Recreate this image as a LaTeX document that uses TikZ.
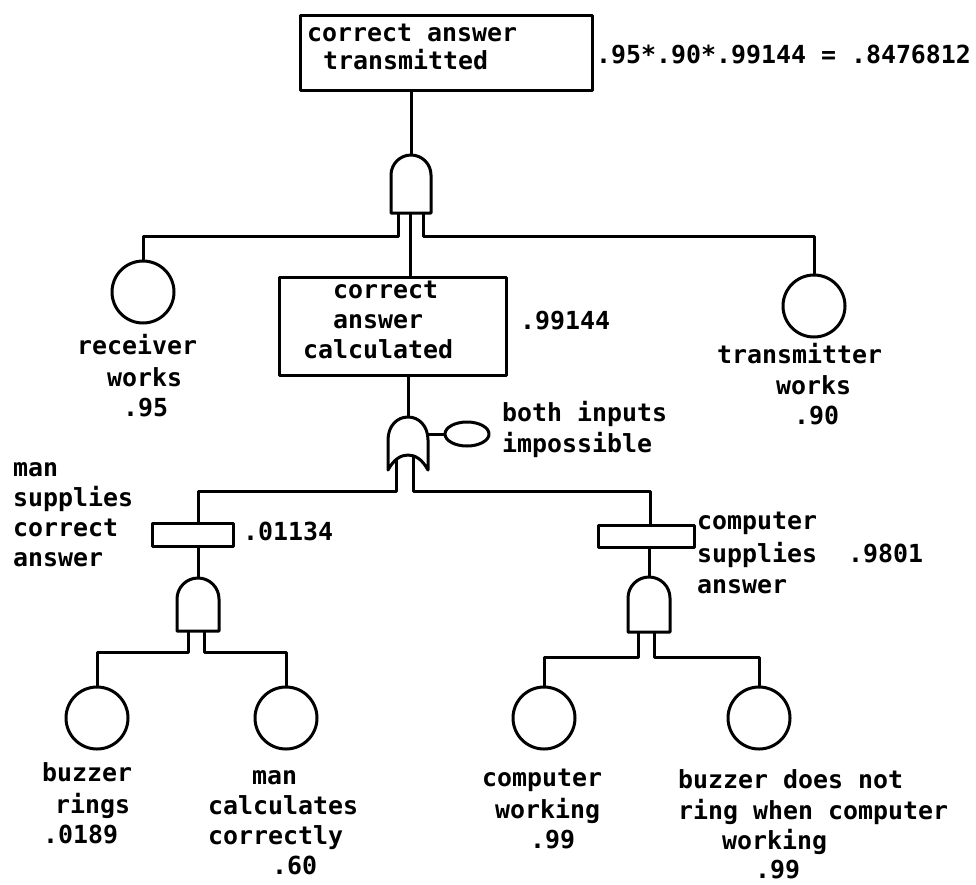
\documentclass[tikz,border=0pt]{standalone}
\usepackage{fontspec}
\newfontfamily\tw{DejaVu Sans Mono}
\usetikzlibrary{shapes.geometric}
\tikzset{
  ln/.style={line width=3pt, line cap=round, line join=round},
  boxnode/.style={draw, ln, rectangle, inner sep=0pt},
  basic/.style={draw, ln, circle, minimum size=62pt, inner sep=0pt},
  gate/.style={ln, draw, fill=white},
  txt/.style={inner sep=0pt, anchor=west, text height=18pt, text depth=5pt, font=\tw\bfseries\fontsize{24.9}{30}\selectfont},
}
\begin{document}
\begin{tikzpicture}[x=1pt,y=-1pt]
\useasboundingbox (0,0) rectangle (976,884);

% ---------- top event ----------
\node[boxnode, minimum width=292pt, minimum height=75pt] (top) at (446,52.5) {};
\node[txt] (t1) at (307,35) {correct answer};
\node[txt] (t2) at (323,63) {transmitted};
\node[txt] (teq) at (596,57) {.95*.90*.99144 = .8476812};

% top AND gate
\coordinate (g1T) at (411,155);
\coordinate (g1L) at (398,213);
\coordinate (g1C) at (410,213);
\coordinate (g1R) at (423,213);
\coordinate (bus1) at (0,236);
\draw[ln] (g1T |- top.south) -- (g1T);

% receiver / transmitter
\node[basic] (rec) at (143,292) {};
\node[basic] (tra) at (814,306) {};
\node[txt] at (77,348) {receiver};
\node[txt] at (107,380) {works};
\node[txt] at (123,410) {.95};
\node[txt] at (717,357) {transmitter};
\node[txt] at (776,388) {works};
\node[txt] at (794,418) {.90};

% box 2
\node[boxnode, minimum width=227pt, minimum height=98pt] (calc) at (392.5,326) {};
\node[txt] at (333,292) {correct};
\node[txt] at (333,322) {answer};
\node[txt] at (303,352) {calculated};
\node[txt] at (520,323) {.99144};

\draw[ln] (g1L) -- (g1L |- bus1) -- (rec.north |- bus1) -- (rec.north);
\draw[ln] (g1R) -- (g1R |- bus1) -- (tra.north |- bus1) -- (tra.north);
\draw[ln] (g1C) -- (g1C |- calc.north);
\draw[gate] (391,213) -- (391,175) .. controls (391,164) and (400,155) .. (411,155) .. controls (422,155) and (431,164) .. (431,175) -- (431,213) -- cycle;

% OR gate
\coordinate (orT) at (408,417);
\coordinate (orS) at (428,434);
\coordinate (orL) at (396,450);
\coordinate (orR) at (413,450);
\coordinate (bus2) at (0,491);
\coordinate (lx) at (198,0);
\coordinate (rx) at (650,0);
\draw[ln] (orT |- calc.south) -- (orT);
\node[draw, ln, ellipse, minimum width=44pt, minimum height=24pt, inner sep=0pt] (imp) at (467,434) {};
\draw[ln] (orS) -- (imp.west);
\node[txt] at (502,415) {both inputs};
\node[txt] at (502,446) {impossible};

% left intermediate
\node[boxnode, minimum width=81pt, minimum height=23pt] (lbox) at (192.5,534.5) {};
\node[txt] at (13,470) {man};
\node[txt] at (13,500) {supplies};
\node[txt] at (13,530) {correct};
\node[txt] at (13,560) {answer};
\node[txt] at (243,534) {.01134};

% right intermediate
\node[boxnode, minimum width=96pt, minimum height=22pt] (rbox) at (646,536) {};
\node[txt] at (697,523) {computer};
\node[txt] at (697,556) {supplies};
\node[txt] at (848,556) {.9801};
\node[txt] at (697,587) {answer};

\draw[ln] (orL) -- (orL |- bus2) -- (lx |- bus2) -- (lx |- lbox.north);
\draw[ln] (orR) -- (orR |- bus2) -- (rx |- bus2) -- (rx |- rbox.north);
\draw[gate] (388,470) -- (388,440) .. controls (388,426) and (397,417) .. (408,417) .. controls (419,417) and (428,426) .. (428,440) -- (428,470) .. controls (422,459) and (415,455) .. (408,455) .. controls (401,455) and (394,459) .. (388,470) -- cycle;

% left AND gate
\coordinate (g2T) at (198,578);
\coordinate (g2L) at (188,631);
\coordinate (g2R) at (204,631);
\coordinate (bus3) at (0,652);
\draw[ln] (g2T |- lbox.south) -- (g2T);
\node[basic] (buz) at (97,718) {};
\node[basic] (man) at (286,718) {};
\draw[ln] (g2L) -- (g2L |- bus3) -- (buz.north |- bus3) -- (buz.north);
\draw[ln] (g2R) -- (g2R |- bus3) -- (man.north |- bus3) -- (man.north);
\draw[gate] (177,631) -- (177,599) .. controls (177,587.4) and (186.4,578) .. (198,578) .. controls (209.6,578) and (219,587.4) .. (219,599) -- (219,631) -- cycle;
\node[txt] at (42,775) {buzzer};
\node[txt] at (55,807) {rings};
\node[txt] at (43,837) {.0189};
\node[txt] at (252,778) {man};
\node[txt] at (208,808) {calculates};
\node[txt] at (208,838) {correctly};
\node[txt] at (272,868) {.60};

% right AND gate
\coordinate (g3T) at (649,577);
\coordinate (g3L) at (638,632);
\coordinate (g3R) at (654,632);
\coordinate (bus4) at (0,657);
\draw[ln] (g3T |- rbox.south) -- (g3T);
\node[basic] (cw) at (544,718) {};
\node[basic] (bz) at (759,718) {};
\draw[ln] (g3L) -- (g3L |- bus4) -- (cw.north |- bus4) -- (cw.north);
\draw[ln] (g3R) -- (g3R |- bus4) -- (bz.north |- bus4) -- (bz.north);
\draw[gate] (628,632) -- (628,598) .. controls (628,586.4) and (637.4,577) .. (649,577) .. controls (660.6,577) and (670,586.4) .. (670,598) -- (670,632) -- cycle;
\node[txt] at (482,780) {computer};
\node[txt] at (495,812) {working};
\node[txt] at (530,842) {.99};
\node[txt] at (678,782) {buzzer does not};
\node[txt] at (678,813) {ring when computer};
\node[txt] at (722,843) {working};
\node[txt] at (755,872) {.99};
\end{tikzpicture}
\end{document}
